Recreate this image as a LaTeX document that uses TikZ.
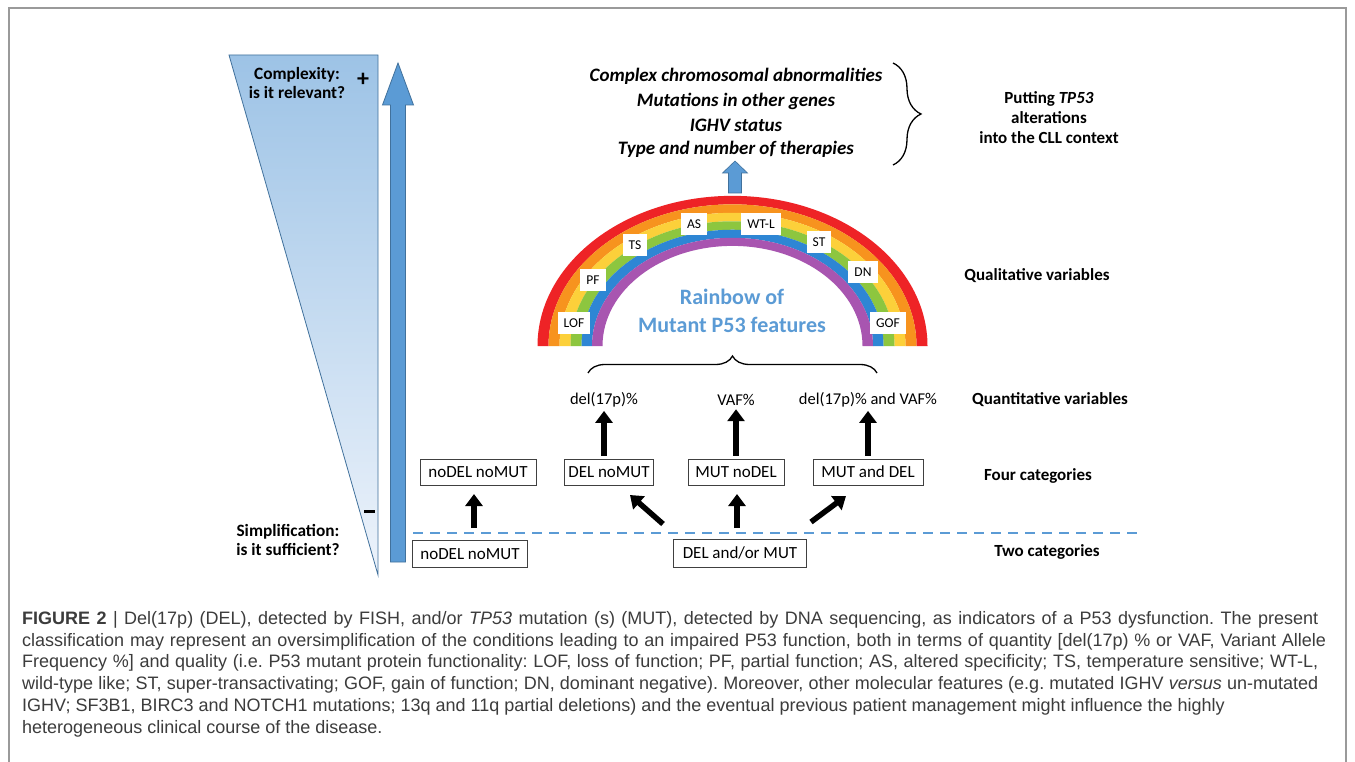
\documentclass[tikz,border=0pt]{standalone}
\usepackage{fontspec}
\setmainfont{Carlito}
\newfontfamily\capfont{Liberation Sans}
\usetikzlibrary{decorations.pathreplacing,arrows.meta}
\definecolor{framegray}{HTML}{9A9A9A}
\definecolor{tritop}{HTML}{9DC3E6}
\definecolor{tribot}{HTML}{EDF3FB}
\definecolor{triedge}{HTML}{41719C}
\definecolor{arrblue}{HTML}{5B9BD5}
\definecolor{arredge}{HTML}{41719C}
\definecolor{boxedge}{HTML}{404040}
\definecolor{capgray}{HTML}{3C3C3C}
\definecolor{rbred}{HTML}{EE2326}
\definecolor{rborange}{HTML}{F7931E}
\definecolor{rbyellow}{HTML}{FCD03A}
\definecolor{rbgreen}{HTML}{8DC63F}
\definecolor{rbblue}{HTML}{2E86D4}
\definecolor{rbpurple}{HTML}{A855B0}
\tikzset{
  catbox/.style={draw=boxedge, line width=0.9pt, fill=white, font=\fontsize{17}{19}\selectfont, minimum height=26pt, inner xsep=2pt, inner ysep=0pt},
  blkarrow/.style={-{Triangle[width=17pt,length=12pt]}, line width=5.5pt, black},
  toptxt/.style={font=\fontsize{19}{23}\selectfont\bfseries\itshape},
  rlbl/.style={font=\fontsize{17}{20}\selectfont\bfseries, align=center},
  sidelbl/.style={font=\fontsize{17.3}{19.5}\selectfont\bfseries, align=center},
  qtxt/.style={font=\fontsize{16.5}{19}\selectfont},
  rblab/.style={fill=white, font=\fontsize{13.5}{15}\selectfont, inner xsep=6pt, inner ysep=0pt, minimum height=22pt},
  captxt/.style={font=\capfont\fontsize{18}{21}\selectfont\frenchspacing, text=capgray, inner sep=0pt, anchor=base west},
  brc/.style={decorate, line width=1.3pt, black}
}
\begin{document}
\begin{tikzpicture}[x=1pt,y=-1pt]
\useasboundingbox (0,0) rectangle (1355,762);
\fill[white] (0,0) rectangle (1355,762);
% frame
\draw[framegray, line width=1.5pt] (9,762) -- (9,8) -- (1346,8) -- (1346,762);

% wedge
\shadedraw[top color=tritop, bottom color=tribot, draw=triedge, line width=0.8pt] (229,55) -- (378,55) -- (378,575) -- cycle;
\node[sidelbl] (cplx) at (297,83) {Complexity:\\is it relevant?};
\node[font=\fontsize{24}{24}\selectfont\bfseries] (plus) at (363,80) {+};
\node[sidelbl] (simp) at (288,540) {Simplification:\\is it sufficient?};
\draw[line width=3pt, black] (364,511) -- (375,511);

% big blue arrow
\filldraw[fill=arrblue, draw=arredge, line width=0.8pt] (390.5,562) -- (405.5,562) -- (405.5,105) -- (413.5,105) -- (398,63) -- (382.5,105) -- (390.5,105) -- cycle;

% dashed line
\draw[arrblue, line width=2.6pt, dash pattern=on 10pt off 7pt] (413,533) -- (1137,533);

% top context texts
\node[toptxt] (ctx1) at (736,76) {Complex chromosomal abnormalities};
\node[toptxt] (ctx2) at (736,101) {Mutations in other genes};
\node[toptxt] (ctx3) at (736,125) {IGHV status};
\node[toptxt] (ctx4) at (736,149) {Type and number of therapies};
\draw[brc, decoration={brace, amplitude=28pt}] (893,63) -- (893,165);
\node[rlbl] (putting) at (1049,118) {Putting \textit{TP53}\\alterations\\into the CLL context};

% small blue arrow
\filldraw[fill=arrblue, draw=arredge, line width=0.6pt] (728.5,193) -- (741.5,193) -- (741.5,173) -- (747.5,173) -- (735,161) -- (722.5,173) -- (728.5,173) -- cycle;

% rainbow
\begin{scope}[shift={(732.5,346)}]
\foreach \ro/\ri/\col in {195/184/rbred, 184/173/rborange, 173/162/rbyellow, 162/151/rbgreen, 151/140.5/rbblue, 140.5/130/rbpurple}{
  \fill[\col] (\ro,0) arc[start angle=0, end angle=-180, x radius=\ro, y radius=0.77*\ro] -- (-\ri,0) arc[start angle=-180, end angle=0, x radius=\ri, y radius=0.77*\ri] -- cycle;
}
\end{scope}
\node[rblab] (lof) at (574,323) {LOF};
\node[rblab] (pf) at (593,280) {PF};
\node[rblab] (ts) at (635,245) {TS};
\node[rblab] (as) at (694,224) {AS};
\node[rblab] (wtl) at (761,224) {WT-L};
\node[rblab] (st) at (819,242) {ST};
\node[rblab] (dn) at (863,272) {DN};
\node[rblab] (gof) at (888,323) {GOF};
\node[font=\fontsize{22}{26}\selectfont\bfseries, text=arrblue] (rb1) at (732,297) {Rainbow of};
\node[font=\fontsize{22}{26}\selectfont\bfseries, text=arrblue] (rb2) at (732,325) {Mutant P53 features};

% brace under rainbow
\draw[brc, decoration={brace, amplitude=17pt}] (588,373) -- (877,373);

% quantitative
\node[qtxt] (q1) at (604,400) {del(17p)\%};
\node[qtxt] (q2) at (736,400) {VAF\%};
\node[qtxt] (q3) at (868,400) {del(17p)\% and VAF\%};

% right labels
\node[rlbl] (qual) at (1037,276) {Qualitative variables};
\node[rlbl] (quant) at (1050,400) {Quantitative variables};
\node[rlbl] (four) at (1038,476) {Four categories};
\node[rlbl] (two) at (1047,552) {Two categories};

% category boxes
\node[catbox, minimum width=116pt] (t1) at (478,472) {noDEL noMUT};
\node[catbox, minimum width=89pt] (t2) at (609,472) {DEL noMUT};
\node[catbox, minimum width=96pt] (t3) at (736,472) {MUT noDEL};
\node[catbox, minimum width=110pt] (t4) at (868,472) {MUT and DEL};
\node[catbox, minimum width=115pt, minimum height=27pt] (b1) at (470,554) {noDEL noMUT};
\node[catbox, minimum width=133pt, minimum height=28pt] (b2) at (740,553) {DEL and/or MUT};

% black arrows
\coordinate (a1s) at (474,528); \coordinate (a1e) at (474,494);
\coordinate (a2s) at (663,524); \coordinate (a2e) at (630,495);
\coordinate (a3s) at (737,528); \coordinate (a3e) at (737,494);
\coordinate (a4s) at (811,522); \coordinate (a4e) at (846,496);
\draw[blkarrow] (a1s) -- (a1e);
\draw[blkarrow] (a2s) -- (a2e);
\draw[blkarrow] (a3s) -- (a3e);
\draw[blkarrow] (a4s) -- (a4e);
\draw[blkarrow] (t2.north -| q1) ++(0,-3) coordinate (u1s) -- (q1.south);
\draw[blkarrow] (t3.north -| q2) ++(0,-3) coordinate (u2s) -- (q2.south);
\draw[blkarrow] (t4.north -| q3) ++(0,-3) coordinate (u3s) -- (q3.south);

% caption
\node[captxt] (c1) at (22,624) {\makebox[1296pt][s]{\textbf{FIGURE 2} | Del(17p) (DEL), detected by FISH, and/or \textit{TP53} mutation (s) (MUT), detected by DNA sequencing, as indicators of a P53 dysfunction. The present}};
\node[captxt] (c2) at (22,646) {\makebox[1304pt][s]{classification may represent an oversimplification of the conditions leading to an impaired P53 function, both in terms of quantity [del(17p) \% or VAF, Variant Allele}};
\node[captxt] (c3) at (22,667.5) {\makebox[1296pt][s]{Frequency \%] and quality (i.e. P53 mutant protein functionality: LOF, loss of function; PF, partial function; AS, altered specificity; TS, temperature sensitive; WT-L,}};
\node[captxt] (c4) at (22,689.5) {\makebox[1296pt][s]{wild-type like; ST, super-transactivating; GOF, gain of function; DN, dominant negative). Moreover, other molecular features (e.g. mutated IGHV \textit{versus} un-mutated}};
\node[captxt] (c5) at (22,711) {IGHV; SF3B1, BIRC3 and NOTCH1 mutations; 13q and 11q partial deletions) and the eventual previous patient management might influence the highly};
\node[captxt] (c6) at (22,733) {heterogeneous clinical course of the disease.};
\end{tikzpicture}
\end{document}
